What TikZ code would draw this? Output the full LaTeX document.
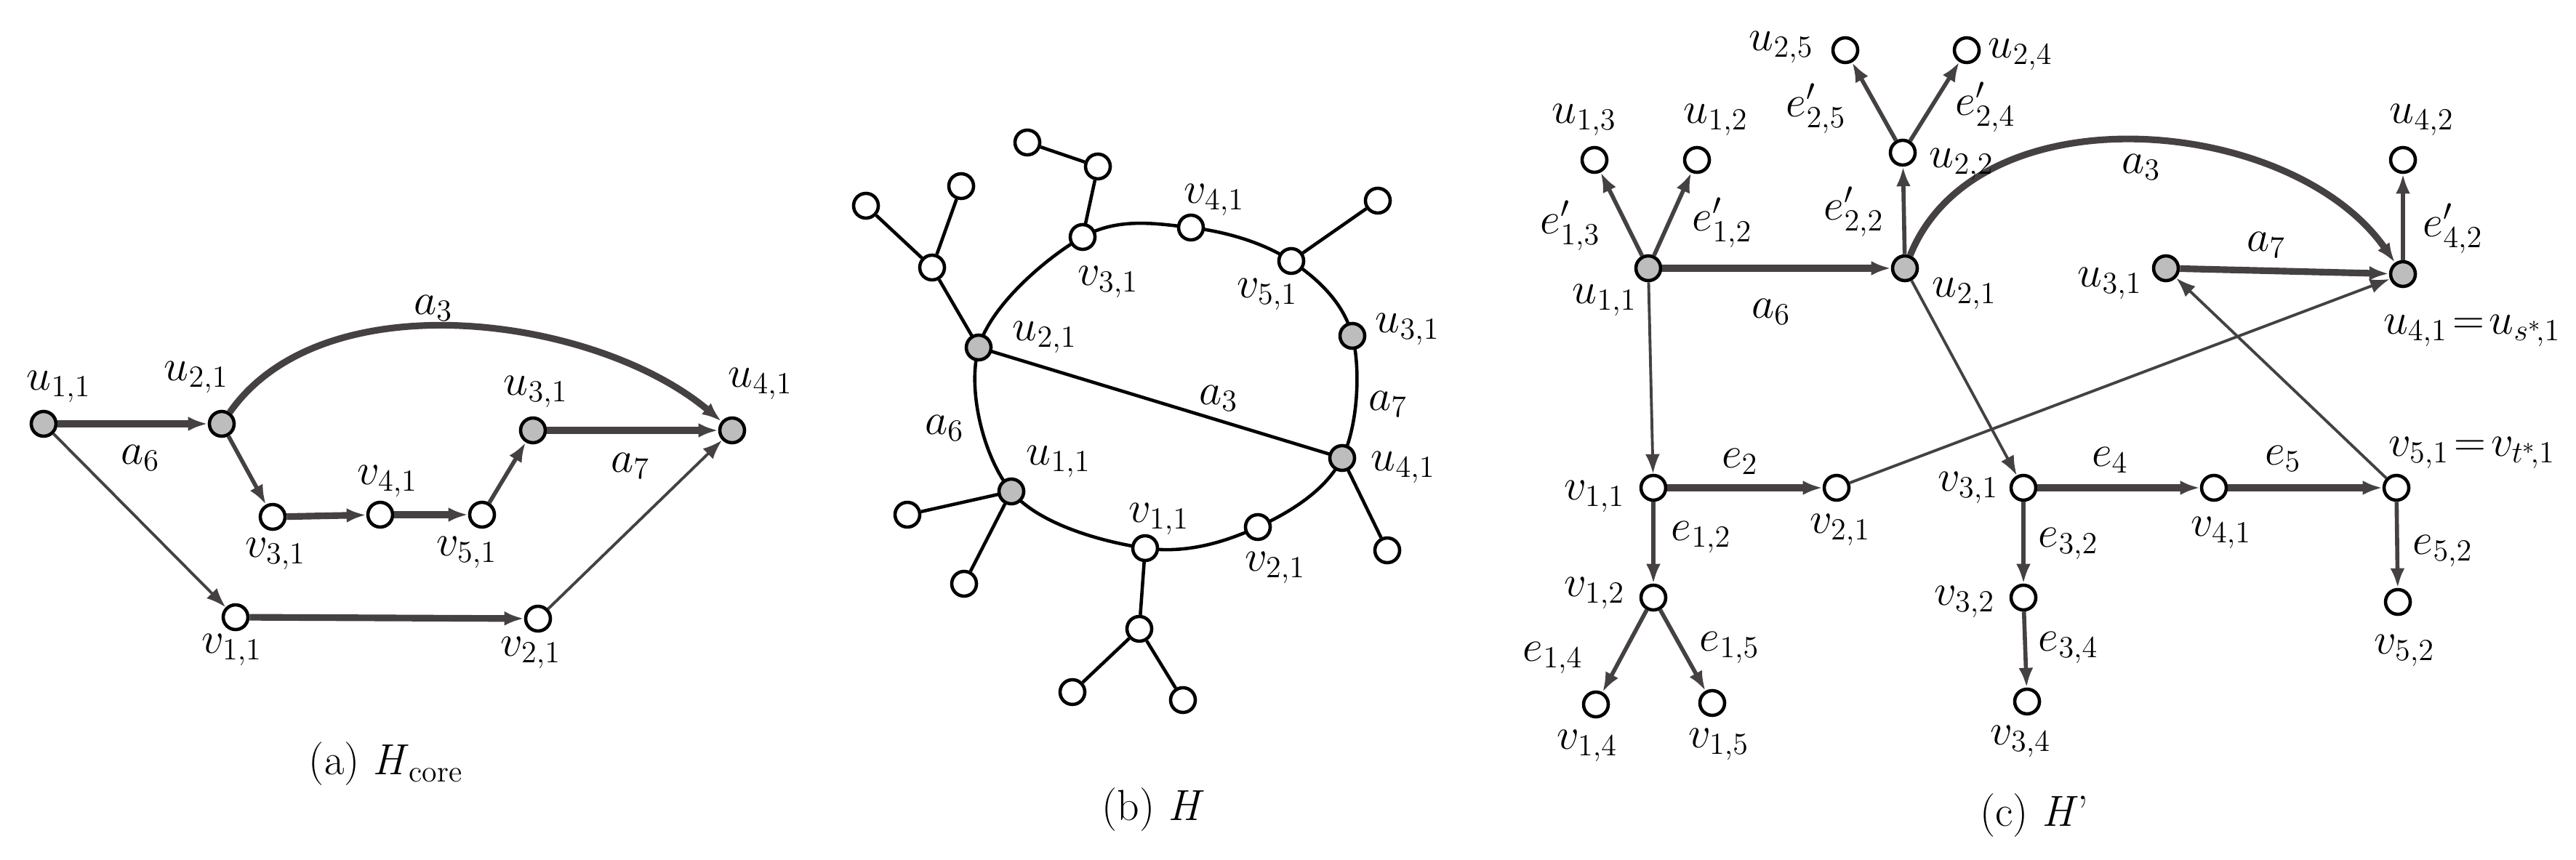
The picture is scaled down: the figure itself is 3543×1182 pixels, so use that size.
\documentclass[tikz,border=0pt]{standalone}
\usetikzlibrary{arrows.meta}
\definecolor{edg}{HTML}{454142}
\definecolor{gfill}{HTML}{BDBDBD}
\begin{document}
\begin{tikzpicture}[x=0.01cm,y=-0.01cm,
  wn/.style={circle,draw=black,line width=1.3pt,fill=white,minimum size=0.34cm,inner sep=0pt},
  gn/.style={wn,fill=gfill},
  lb/.style={font=\fontsize{18}{20}\selectfont,inner sep=0pt},
  captxt/.style={font=\fontsize{17}{20}\selectfont\rmfamily,inner sep=0pt},
  tip/.style={-{Latex[length=0.27cm,width=0.2cm]}},
  thk/.style={draw=edg,line width=2.6pt,tip},
  med/.style={draw=edg,line width=1.6pt,tip},
  thn/.style={draw=edg,line width=1.1pt,tip},
  bl/.style={draw=black,line width=1.3pt}]
\useasboundingbox (0,0) rectangle (3543,1182);
% ---------- (a)
\node[gn] (a11) at (60,583) {};
\node[gn] (a21) at (305,583) {};
\node[gn] (a31) at (733,592) {};
\node[gn] (a41) at (1007,592) {};
\node[wn] (b31) at (375,711) {};
\node[wn] (b41) at (523,708) {};
\node[wn] (b51) at (663,708) {};
\node[wn] (b11) at (324,849) {};
\node[wn] (b21) at (740,851) {};
\draw[thk] (a11) -- (a21);
\draw[med] (a21) -- (b31);
\draw[thk] (b31) -- (b41);
\draw[thk] (b41) -- (b51);
\draw[med] (b51) -- (a31);
\draw[thk] (a31) -- (a41);
\draw[thn] (a11) -- (b11);
\draw[thk] (b11) -- (b21);
\draw[thn] (b21) -- (a41);
\draw[thk] (a21) to[out=55,in=140,looseness=0.85] (a41);
\node[lb] at (81,532) {$u_{1,1}$};
\node[lb] at (270,519) {$u_{2,1}$};
\node[lb] at (737,539) {$u_{3,1}$};
\node[lb] at (1046,528) {$u_{4,1}$};
\node[lb] at (596,424) {$a_3$};
\node[lb] at (193,630) {$a_6$};
\node[lb] at (867,641) {$a_7$};
\node[lb] at (533,662) {$v_{4,1}$};
\node[lb] at (379,762) {$v_{3,1}$};
\node[lb] at (642,760) {$v_{5,1}$};
\node[lb] at (319,894) {$v_{1,1}$};
\node[lb] at (730,898) {$v_{2,1}$};
\node[captxt] (capa) at (531,1051) {(a) \textit{H}\textsubscript{core}};
% ---------- (b)
\coordinate (c21) at (1346,478);
\coordinate (c31v) at (1489,326);
\coordinate (c41v) at (1638,313);
\coordinate (c51v) at (1776,359);
\coordinate (c31) at (1860,462);
\coordinate (c41) at (1846,630);
\coordinate (c21v) at (1730,725);
\coordinate (c11v) at (1575,754);
\coordinate (c11) at (1391,676);
\draw[bl] plot[smooth cycle,tension=0.6] coordinates {(1346,478) (1489,326) (1638,313) (1776,359) (1860,462) (1846,630) (1730,725) (1575,754) (1391,676)};
\draw[bl] (c21) -- (c41);
\node[wn] (p1) at (1282,368) {};
\node[wn] (p2) at (1191,283) {};
\node[wn] (p3) at (1322,256) {};
\node[wn] (p4) at (1510,229) {};
\node[wn] (p5) at (1413,196) {};
\node[wn] (p6) at (1895,276) {};
\node[wn] (p7) at (1908,757) {};
\node[wn] (p8) at (1567,865) {};
\node[wn] (p9) at (1475,952) {};
\node[wn] (p10) at (1627,963) {};
\node[wn] (p11) at (1248,708) {};
\node[wn] (p12) at (1326,803) {};
\draw[bl] (c21) -- (p1) (p1) -- (p2) (p1) -- (p3);
\draw[bl] (c31v) -- (p4) (p4) -- (p5);
\draw[bl] (c51v) -- (p6);
\draw[bl] (c41) -- (p7);
\draw[bl] (c11v) -- (p8) (p8) -- (p9) (p8) -- (p10);
\draw[bl] (c11) -- (p11) (c11) -- (p12);
\node[gn] at (c21) {};
\node[wn] at (c31v) {};
\node[wn] at (c41v) {};
\node[wn] at (c51v) {};
\node[gn] at (c31) {};
\node[gn] at (c41) {};
\node[wn] at (c21v) {};
\node[wn] at (c11v) {};
\node[gn] at (c11) {};
\node[lb] at (1670,275) {$v_{4,1}$};
\node[lb] at (1524,388) {$v_{3,1}$};
\node[lb] at (1743,405) {$v_{5,1}$};
\node[lb] at (1437,464) {$u_{2,1}$};
\node[lb] at (1936,453) {$u_{3,1}$};
\node[lb] at (1676,548) {$a_3$};
\node[lb] at (1909,556) {$a_7$};
\node[lb] at (1299,589) {$a_6$};
\node[lb] at (1456,635) {$u_{1,1}$};
\node[lb] at (1930,643) {$u_{4,1}$};
\node[lb] at (1594,714) {$v_{1,1}$};
\node[lb] at (1754,781) {$v_{2,1}$};
\node[captxt] at (1586,1114) {(b) \textit{H}};
% ---------- (c)
\node[wn] (u25) at (2538,69) {};
\node[wn] (u24) at (2705,69) {};
\node[wn] (u13) at (2193,220) {};
\node[wn] (u12) at (2334,220) {};
\node[wn] (u22) at (2617,210) {};
\node[wn] (u42) at (3305,220) {};
\node[gn] (u11) at (2267,369) {};
\node[gn] (u21) at (2620,369) {};
\node[gn] (u31) at (2979,369) {};
\node[gn] (u41) at (3305,377) {};
\node[wn] (v11) at (2274,671) {};
\node[wn] (v21) at (2526,671) {};
\node[wn] (v31) at (2783,671) {};
\node[wn] (v41) at (3045,671) {};
\node[wn] (v51) at (3296,671) {};
\node[wn] (v12) at (2274,822) {};
\node[wn] (v32) at (2783,822) {};
\node[wn] (v52) at (3298,828) {};
\node[wn] (v14) at (2195,969) {};
\node[wn] (v15) at (2355,967) {};
\node[wn] (v34) at (2788,965) {};
\draw[med] (u11) -- (u13);
\draw[med] (u11) -- (u12);
\draw[thk] (u11) -- (u21);
\draw[med] (u21) -- (u22);
\draw[med] (u22) -- (u25);
\draw[med] (u22) -- (u24);
\draw[thk] (u21) to[out=68,in=125,looseness=0.95] (u41);
\draw[thk] (u31) -- (u41);
\draw[med] (u41) -- (u42);
\draw[thn] (u11) -- (v11);
\draw[thn] (u21) -- (v31);
\draw[thn] (v21) -- (u41);
\draw[thn] (v51) -- (u31);
\draw[thk] (v11) -- (v21);
\draw[med] (v11) -- (v12);
\draw[med] (v12) -- (v14);
\draw[med] (v12) -- (v15);
\draw[thk] (v31) -- (v41);
\draw[thk] (v41) -- (v51);
\draw[med] (v31) -- (v32);
\draw[med] (v32) -- (v34);
\draw[med] (v51) -- (v52);
\node[lb] at (2450,65) {$u_{2,5}$};
\node[lb] at (2779,75) {$u_{2,4}$};
\node[lb] at (2498,149) {$e'_{2,5}$};
\node[lb] at (2731,147) {$e'_{2,4}$};
\node[lb] at (2179,165) {$u_{1,3}$};
\node[lb] at (2360,165) {$u_{1,2}$};
\node[lb] at (3331,165) {$u_{4,2}$};
\node[lb] at (2698,226) {$u_{2,2}$};
\node[lb] at (2550,291) {$e'_{2,2}$};
\node[lb] at (2945,230) {$a_3$};
\node[lb] at (2160,310) {$e'_{1,3}$};
\node[lb] at (2369,306) {$e'_{1,2}$};
\node[lb] at (3374,314) {$e'_{4,2}$};
\node[lb] at (3117,337) {$a_7$};
\node[lb] at (2207,413) {$u_{1,1}$};
\node[lb] at (2702,404) {$u_{2,1}$};
\node[lb] at (2902,390) {$u_{3,1}$};
\node[lb] at (2436,429) {$a_6$};
\node[lb] at (3400,455) {$u_{4,1}\!=\!u_{s^*\!,1}$};
\node[lb] at (2193,683) {$v_{1,1}$};
\node[lb] at (2393,635) {$e_2$};
\node[lb] at (2531,729) {$v_{2,1}$};
\node[lb] at (2707,671) {$v_{3,1}$};
\node[lb] at (2902,633) {$e_4$};
\node[lb] at (3140,631) {$e_5$};
\node[lb] at (3400,623) {$v_{5,1}\!=\!v_{t^*\!,1}$};
\node[lb] at (3055,733) {$v_{4,1}$};
\node[lb] at (2340,739) {$e_{1,2}$};
\node[lb] at (2845,748) {$e_{3,2}$};
\node[lb] at (3360,758) {$e_{5,2}$};
\node[lb] at (2193,816) {$v_{1,2}$};
\node[lb] at (2702,828) {$v_{3,2}$};
\node[lb] at (2845,891) {$e_{3,4}$};
\node[lb] at (2379,891) {$e_{1,5}$};
\node[lb] at (2136,905) {$e_{1,4}$};
\node[lb] at (3307,895) {$v_{5,2}$};
\node[lb] at (2183,1026) {$v_{1,4}$};
\node[lb] at (2364,1024) {$v_{1,5}$};
\node[lb] at (2779,1020) {$v_{3,4}$};
\node[captxt] at (2798,1122) {(c) \textit{H}'};
\end{tikzpicture}
\end{document}
